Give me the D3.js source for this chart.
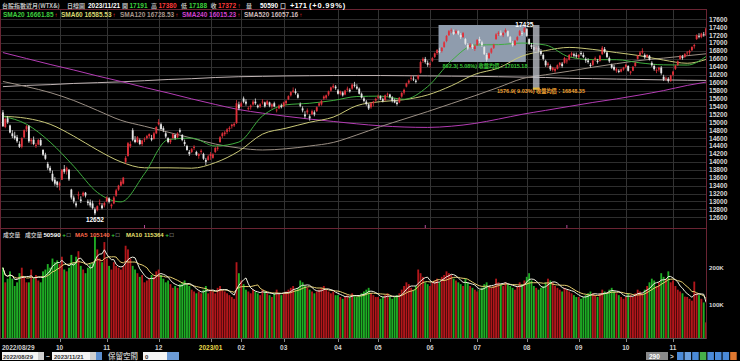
<!DOCTYPE html>
<html><head><meta charset="utf-8">
<script src="https://cdn.jsdelivr.net/npm/d3@7/dist/d3.min.js"></script>
<style>html,body{margin:0;padding:0;background:#000;overflow:hidden}svg{display:block}</style>
</head><body>
<svg id="chart" width="740" height="361"></svg>
<script>
// ---------------- DATA ----------------
const open = [
15250,14880,15100,14920,14720,14660,14620,14450,14380,14620,
14820,14900,14520,14560,14400,14440,14550,14300,14180,13950,
13850,13700,13550,13500,13400,13550,13820,13760,13800,13300,
13100,12950,13150,13050,13150,13220,13000,12980,12950,12800,
12780,12950,12900,12900,13000,13080,12880,12950,13150,13300,
13400,13450,14000,14150,14400,14800,14560,14500,14550,14450,
14560,14600,14650,14600,14580,14720,14950,14950,14850,14720,
14600,14500,14600,14680,14620,14800,14680,14500,14400,14250,
14250,14350,14250,14150,14250,14200,14050,14050,14150,14100,
14250,14330,14500,14650,14700,14760,14830,14900,14920,14980,
15450,15400,15600,15520,15350,15380,15450,15520,15420,15400,
15500,15500,15450,15500,15400,15480,15300,15350,15420,15400,
15480,15580,15680,15770,15780,15700,15450,15350,15200,15250,
15150,15200,15250,15280,15420,15450,15600,15620,15700,15800,
15880,15900,15800,15720,15750,15700,15820,15820,15850,15950,
15900,15850,15720,15600,15520,15450,15380,15480,15550,15620,
15650,15580,15560,15700,15700,15620,15550,15500,15500,15650,
15750,15900,16000,16100,16100,16050,16100,16250,16550,16600,
16500,16450,16550,16650,16750,16800,16800,16900,17050,17200,
17300,17280,17250,17300,17200,17150,17100,16950,16900,16950,
16850,16950,17100,17020,16900,16700,16620,16760,16880,17100,
17230,17260,17200,17280,17300,17150,17000,16950,17080,17200,
17250,17280,17350,17100,16950,16900,16850,16880,16800,16700,
16550,16450,16420,16320,16300,16350,16450,16480,16500,16550,
16580,16700,16720,16700,16650,16750,16700,16600,16560,16450,
16450,16580,16550,16550,16720,16850,16760,16620,16450,16400,
16300,16300,16280,16330,16400,16420,16250,16300,16420,16600,
16700,16760,16700,16650,16680,16500,16420,16300,16330,16380,
16150,16100,16100,16040,16200,16350,16450,16600,16650,16650,
16740,16760,16820,16920,17100,17180,17150,17220,17191];
const high = [
15310,15120,15160,14940,14800,14760,14680,14520,14620,14820,
14930,14930,14600,14640,14480,14580,14600,14320,14230,14000,
13900,13780,13620,13520,13500,13820,13920,13880,13820,13320,
13150,13000,13250,13130,13250,13240,13050,13050,13020,12850,
12900,13050,12960,12990,13130,13110,12950,13140,13320,13420,
13550,13620,14150,14500,14520,14850,14650,14650,14590,14560,
14620,14680,14720,14680,14760,14900,15080,14990,14900,14760,
14620,14580,14720,14700,14750,14850,14700,14560,14430,14300,
14350,14420,14280,14220,14320,14230,14100,14180,14250,14220,
14380,14400,14650,14750,14780,14850,14900,14960,15000,15560,
15520,15520,15650,15580,15400,15450,15560,15600,15450,15480,
15580,15520,15560,15520,15480,15520,15350,15450,15470,15520,
15560,15680,15780,15880,15850,15740,15500,15400,15280,15350,
15200,15320,15300,15400,15500,15560,15680,15700,15800,15900,
15970,15940,15840,15800,15780,15820,15900,15860,15980,16020,
15960,15880,15750,15640,15560,15480,15500,15540,15620,15700,
15680,15620,15700,15750,15720,15660,15600,15560,15640,15760,
15850,16000,16080,16180,16160,16090,16200,16560,16640,16650,
16560,16520,16650,16760,16850,16880,16900,17050,17200,17330,
17370,17340,17340,17320,17250,17280,17130,17000,17000,16980,
16950,17100,17160,17060,16920,16750,16760,16880,16980,17250,
17300,17320,17280,17370,17320,17180,17050,17080,17180,17330,
17300,17425,17380,17120,17000,16950,16920,16930,16850,16740,
16580,16520,16460,16400,16380,16460,16520,16520,16650,16620,
16720,16780,16760,16760,16720,16800,16760,16640,16620,16500,
16580,16660,16600,16700,16925,16900,16800,16660,16480,16450,
16380,16340,16360,16400,16480,16440,16300,16420,16520,16700,
16800,16870,16740,16720,16700,16540,16460,16360,16400,16420,
16200,16160,16140,16200,16300,16450,16560,16700,16700,16750,
16800,16830,16920,16980,17220,17250,17260,17280,17380];
const low = [
14880,14850,14960,14720,14600,14560,14480,14350,14340,14600,
14760,14480,14440,14420,14350,14420,14400,14150,14050,13800,
13720,13500,13400,13350,13280,13540,13700,13680,13520,13050,
12950,12850,13050,12960,13120,13100,12900,12850,12800,12652,
12750,12900,12800,12850,12980,12950,12820,12930,13120,13270,
13380,13430,13950,14130,14350,14520,14470,14480,14420,14400,
14500,14560,14600,14520,14560,14700,14920,14800,14750,14600,
14470,14450,14580,14560,14600,14720,14520,14400,14280,14150,
14220,14300,14150,14080,14200,14050,13920,14030,14050,14080,
14220,14280,14480,14600,14650,14700,14760,14840,14880,14960,
15300,15380,15480,15420,15300,15320,15420,15440,15350,15360,
15450,15370,15430,15380,15340,15380,15250,15330,15350,15380,
15430,15560,15650,15740,15700,15600,15380,15250,15100,15200,
15040,15180,15150,15260,15400,15420,15560,15580,15660,15770,
15850,15820,15700,15680,15650,15680,15780,15750,15820,15880,
15820,15700,15600,15500,15420,15310,15340,15400,15520,15580,
15560,15500,15540,15640,15600,15500,15480,15420,15480,15620,
15700,15880,15960,16050,16040,15980,16060,16230,16500,16480,
16400,16380,16520,16620,16700,16740,16760,16880,17020,17180,
17250,17200,17220,17200,17100,17130,16950,16820,16870,16850,
16800,16930,17000,16900,16700,16530,16600,16730,16850,17080,
17180,17180,17150,17250,17150,17000,16910,16930,17050,17180,
17180,17260,17150,16950,16850,16780,16800,16760,16680,16560,
16400,16380,16300,16280,16250,16330,16400,16380,16480,16480,
16560,16650,16640,16620,16600,16680,16620,16500,16480,16380,
16420,16540,16480,16530,16700,16740,16620,16500,16350,16300,
16250,16240,16260,16300,16360,16280,16200,16290,16400,16580,
16680,16720,16600,16620,16560,16400,16300,16240,16280,16200,
16040,16050,16000,16020,16160,16320,16420,16580,16580,16620,
16680,16700,16800,16860,17080,17120,17120,17160,17188];
const close = [
14900,15080,15000,14740,14650,14600,14520,14380,14600,14800,
14900,14520,14560,14450,14430,14550,14420,14180,14080,13850,
13780,13530,13450,13420,13460,13800,13750,13850,13560,13100,
13000,12900,13180,13010,13220,13150,12960,12900,12830,12700,
12880,12960,12830,12960,13100,12990,12920,13100,13280,13400,
13500,13600,14100,14470,14450,14560,14500,14620,14450,14540,
14580,14650,14700,14560,14720,14880,15000,14830,14800,14640,
14500,14550,14700,14600,14720,14760,14550,14450,14300,14200,
14320,14380,14180,14200,14280,14080,14000,14140,14200,14190,
14350,14360,14620,14720,14740,14820,14860,14940,14960,15480,
15350,15480,15520,15470,15360,15420,15520,15480,15380,15450,
15520,15400,15530,15420,15450,15400,15320,15420,15380,15500,
15540,15660,15760,15800,15740,15620,15420,15300,15150,15300,
15100,15280,15200,15380,15480,15540,15650,15680,15780,15880,
15920,15860,15720,15780,15680,15800,15850,15780,15950,15920,
15850,15720,15620,15540,15460,15350,15480,15520,15590,15650,
15600,15540,15680,15720,15640,15540,15500,15460,15620,15740,
15820,15980,16050,16120,16080,16020,16180,16520,16600,16520,
16450,16480,16620,16740,16820,16780,16880,17020,17180,17300,
17320,17230,17300,17240,17150,17250,16980,16860,16960,16900,
16920,17080,17050,16950,16720,16580,16740,16860,16960,17220,
17260,17200,17250,17330,17180,17030,16950,17060,17150,17300,
17230,17380,17180,16980,16900,16820,16880,16800,16720,16600,
16440,16480,16340,16380,16350,16440,16500,16420,16620,16560,
16700,16740,16680,16660,16700,16720,16650,16560,16520,16420,
16560,16620,16520,16680,16880,16780,16650,16540,16380,16330,
16350,16270,16340,16380,16450,16300,16280,16400,16500,16680,
16760,16800,16640,16700,16580,16440,16340,16320,16380,16240,
16080,16120,16040,16180,16280,16430,16540,16680,16620,16720,
16760,16800,16900,16950,17200,17160,17240,17201,17372];
// volume, thousands of contracts
const volume = [
200,160,170,190,170,150,160,185,200,175,
160,160,195,170,180,165,160,190,195,210,
200,225,215,220,210,230,195,190,200,235,
215,230,245,205,195,185,200,210,215,285,
250,225,215,270,225,205,195,215,205,200,
195,205,260,250,225,205,195,185,175,180,
160,165,170,180,175,190,195,180,170,160,
165,155,145,150,145,155,160,165,155,150,
140,135,130,135,130,140,150,130,140,135,
130,145,150,140,135,130,125,120,115,215,
185,165,155,140,135,130,140,135,130,125,
140,135,130,125,120,130,140,130,125,130,
135,140,145,150,140,145,165,160,150,145,
140,135,130,135,140,145,150,140,135,130,
135,125,125,120,115,120,125,120,130,125,
120,125,130,135,140,145,130,125,120,120,
115,120,125,130,120,115,120,125,130,140,
150,160,155,145,140,150,195,185,175,160,
155,150,160,165,170,160,175,180,190,185,
180,170,165,160,155,150,170,160,150,145,
140,135,140,145,155,160,150,145,150,170,
160,155,150,160,155,150,145,140,150,160,
155,165,175,185,165,150,145,140,145,150,
160,170,165,160,150,145,140,135,145,140,
135,130,125,120,120,115,120,125,130,135,
130,125,120,130,140,135,130,140,145,135,
130,125,120,115,120,130,125,120,130,140,
135,130,140,150,160,170,165,150,160,185,
175,170,190,160,165,150,140,135,130,120.94,
120,115,110,162,130,125,115,105.11,50.59];

// moving averages at every 10th bar
const maIndex = [0,10,20,30,40,50,60,70,80,90,100,110,120,130,140,150,160,170,180,190,200,210,220,230,240,250,260,270,280,290,298];
const sma20  = [15150,14950,14500,13890,13230,12990,13700,14560,14600,14400,14500,15160,15440,15480,15550,15650,15660,15580,15900,16550,16950,16960,17000,16950,16650,16580,16580,16500,16450,16444,16662];
const sma60  = [15150,15100,14950,14650,14300,14000,13850,13850,13840,13980,14270,14700,14850,15000,15130,15420,15520,15570,15690,15920,16210,16370,16670,16810,16890,16840,16760,16680,16570,16490,16586];
const sma120 = [16030,15900,15750,15550,15300,15050,14900,14750,14600,14450,14350,14300,14330,14400,14490,14680,14890,15080,15270,15470,15670,15880,16100,16200,16290,16390,16480,16560,16620,16680,16729];
const sma240 = [16760,16610,16460,16320,16170,16030,15880,15740,15590,15450,15320,15230,15150,15080,15020,14960,14910,14880,14870,14900,14970,15080,15200,15300,15400,15500,15590,15690,15800,15930,16015];
const sma520 = [15900,15930,15950,15980,16000,16020,16050,16080,16100,16130,16150,16160,16170,16175,16180,16180,16180,16175,16170,16165,16160,16150,16140,16130,16110,16100,16090,16080,16070,16062,16057];

const monthStart = [0,24,44,66,88,101,119,142,159,181,201,222,244,264,284];
const monthLabel = ["2022/08/29","10","11","12","2023/01","02","03","04","05","06","07","08","09","10","11"];
const priceTicks = d3.range(12600, 17601, 200);
const volTicks = [100, 200];
const volTickLabels = ["100K", "200K"];
const markerBars = [60, 179, 239];

// statistics range box and single-bar strip (bar indices / prices)
const boxBars = [185, 222];
const boxPrices = [16522, 17456];
const stripBars = [225, 227];
const stripPrices = [15825, 17456];

// ---------------- CHART ----------------
const svg = d3.select("#chart");
const FONT = "'Liberation Sans',Arial,sans-serif";
const CJK = "'Noto Sans CJK TC','Noto Sans CJK SC',sans-serif";
const N = close.length;

const x = d3.scaleBand().domain(d3.range(N)).range([2, 707]).paddingInner(0.22);
const cx = i => x(i) + x.bandwidth() / 2;
const y = d3.scaleLinear().domain([12600, 17600]).range([217.3, 19.3]);
const yv = d3.scaleLinear().domain([0, 200]).range([340.9, 267.7]);

svg.append("rect").attr("width", 740).attr("height", 361).attr("fill", "#000");

const defs = svg.append("defs");
defs.append("clipPath").attr("id", "cp").append("rect").attr("x", 1).attr("y", 10).attr("width", 705).attr("height", 218);
defs.append("clipPath").attr("id", "cv").append("rect").attr("x", 1).attr("y", 230).attr("width", 705).attr("height", 108);

// grid
const grid = svg.append("g");
grid.selectAll("line.h").data(priceTicks).join("line")
  .attr("x1", 1).attr("x2", 706).attr("y1", d => Math.round(y(d)) + 0.5).attr("y2", d => Math.round(y(d)) + 0.5)
  .attr("stroke", "#2e2e2e").attr("stroke-width", 1);
grid.selectAll("line.v").data(monthStart.slice(1)).join("line")
  .attr("x1", d => Math.round(cx(d)) + 0.5).attr("x2", d => Math.round(cx(d)) + 0.5)
  .attr("y1", 10).attr("y2", 338).attr("stroke", "#333").attr("stroke-width", 1);

// selection box
const pg = svg.append("g").attr("clip-path", "url(#cp)");
pg.append("rect")
  .attr("x", x(boxBars[0])).attr("width", x(boxBars[1]) - x(boxBars[0]))
  .attr("y", y(boxPrices[1])).attr("height", y(boxPrices[0]) - y(boxPrices[1]))
  .attr("fill", "#8f9cad");

// moving averages
const maLine = d3.line().x((d, k) => cx(maIndex[k])).y(d => y(d)).curve(d3.curveMonotoneX);
const maDefs = [
  [sma520, "#bfb3b3"], [sma240, "#b43cb4"], [sma120, "#9b8f84"], [sma60, "#c9c878"], [sma20, "#3fae3f"]
];
maDefs.forEach(([arr, col]) => {
  pg.append("path").attr("d", maLine(arr)).attr("fill", "none").attr("stroke", col).attr("stroke-width", 1);
});

// candles
const cg = pg.append("g");
const up = i => close[i] >= open[i];
cg.selectAll("line").data(d3.range(N)).join("line")
  .attr("x1", i => cx(i)).attr("x2", i => cx(i))
  .attr("y1", i => y(high[i])).attr("y2", i => y(low[i]))
  .attr("stroke", i => up(i) ? "#e0303a" : "#e6e6e6").attr("stroke-width", 0.8);
cg.selectAll("rect").data(d3.range(N)).join("rect")
  .attr("x", i => x(i)).attr("width", x.bandwidth())
  .attr("y", i => y(Math.max(open[i], close[i])))
  .attr("height", i => Math.max(0.8, Math.abs(y(open[i]) - y(close[i]))))
  .attr("fill", i => up(i) ? "#e0303a" : "#e6e6e6");

// strip
pg.append("rect")
  .attr("x", x(stripBars[0])).attr("width", x(stripBars[1]) + x.bandwidth() - x(stripBars[0]))
  .attr("y", y(stripPrices[1])).attr("height", y(stripPrices[0]) - y(stripPrices[1]))
  .attr("fill", "#c4c8d0").attr("opacity", 0.75);
pg.append("rect")
  .attr("x", x(stripBars[0])).attr("width", x(stripBars[1]) + x.bandwidth() - x(stripBars[0]))
  .attr("y", y(stripPrices[0]) - 2).attr("height", 2).attr("fill", "#e0c040");

// event markers on the separator
svg.selectAll("line.mk").data(markerBars).join("line")
  .attr("x1", d => cx(d)).attr("x2", d => cx(d)).attr("y1", 225).attr("y2", 229)
  .attr("stroke", "#b04a9a").attr("stroke-width", 1);

// volume
const vg = svg.append("g").attr("clip-path", "url(#cv)");
vg.selectAll("rect").data(d3.range(N)).join("rect")
  .attr("x", i => x(i)).attr("width", x.bandwidth())
  .attr("y", i => yv(volume[i])).attr("height", i => yv(0) - yv(volume[i]))
  .attr("fill", i => up(i) ? "#b3171b" : "#1fae25");
const volMA = n => volume.map((v, i) => d3.mean(volume.slice(Math.max(0, i - n + 1), i + 1)));
const vLine = d3.line().x((d, i) => cx(i)).y(d => yv(d));
vg.append("path").attr("d", vLine(volMA(10))).attr("fill", "none").attr("stroke", "#e8d070").attr("stroke-width", 1);
vg.append("path").attr("d", vLine(volMA(5))).attr("fill", "none").attr("stroke", "#f0f0e0").attr("stroke-width", 1);

// frames
const frame = "#6a2433";
svg.append("line").attr("x1", 0).attr("x2", 707).attr("y1", 9.5).attr("y2", 9.5).attr("stroke", frame);
svg.append("line").attr("x1", 0).attr("x2", 707).attr("y1", 228.5).attr("y2", 228.5).attr("stroke", frame);
svg.append("line").attr("x1", 0).attr("x2", 707).attr("y1", 338.5).attr("y2", 338.5).attr("stroke", "#555");
svg.append("line").attr("x1", 0.5).attr("x2", 0.5).attr("y1", 9).attr("y2", 339).attr("stroke", frame);
svg.append("line").attr("x1", 706.5).attr("x2", 706.5).attr("y1", 9).attr("y2", 339).attr("stroke", frame);

// helper for text
function T(xp, yp, s, col, size, fam, anchor) {
  return svg.append("text").attr("x", xp).attr("y", yp).text(s).attr("fill", col)
    .attr("font-family", fam || FONT).attr("font-size", size).attr("font-weight", "bold")
    .attr("text-anchor", anchor || "start");
}
// places a run of texts left to right with a gap after each
function run(xp, yp, parts) {
  let cur = xp;
  parts.forEach(([s, col, size, fam, gap]) => {
    const t = T(cur, yp, s, col, size, fam);
    cur += t.node().getComputedTextLength() + (gap === undefined ? 1.5 : gap);
  });
}

// price axis
priceTicks.forEach(d => T(709, y(d) + 2.4, d, "#d8d8d8", 6.6));
volTicks.forEach((d, k) => T(709, yv(d) + 2.2, volTickLabels[k], "#d8d8d8", 6.2));

// x axis
svg.selectAll("line.tk").data(monthStart.slice(1)).join("line")
  .attr("x1", d => Math.round(cx(d)) + 0.5).attr("x2", d => Math.round(cx(d)) + 0.5)
  .attr("y1", 339).attr("y2", 342).attr("stroke", "#888");
monthStart.forEach((d, k) => {
  const lab = monthLabel[k];
  T(k === 0 ? 2 : cx(d), 349.5, lab, (k > 0 && lab.length > 4) ? "#e8d84a" : "#cfcfcf", 6.5, FONT, k === 0 ? "start" : "middle");
});

// header
T(2, 8, "台股指數近月(WTX&)", "#bdbdbd", 6, CJK);
T(67, 8, "日線圖", "#bdbdbd", 6, CJK);
T(88, 8, "2023/11/21", "#ffffff", 6.5);
T(122, 8, "開", "#bdbdbd", 6, CJK); T(129.5, 8, "17191", "#3cd23c", 6.5);
T(151, 8, "高", "#bdbdbd", 6, CJK); T(158.5, 8, "17380", "#ff3a3a", 6.5);
T(181, 8, "低", "#bdbdbd", 6, CJK); T(189, 8, "17188", "#3cd23c", 6.5);
T(210.5, 8, "收", "#bdbdbd", 6, CJK); T(218, 8, "17372", "#ff3a3a", 6.5); T(237.5, 8, "↑", "#ff3a3a", 6.5);
T(246, 8, "量", "#bdbdbd", 6, CJK); T(260, 8, "50590", "#ffffff", 6.5); T(280, 8, "口", "#bdbdbd", 6, CJK);
T(290, 8, "+171", "#ffffff", 7.5);
T(309, 8, "(+0.99%)", "#ffffff", 7.5).attr("letter-spacing", 0.8);

// MA legend
const leg = [
  [3, "SMA20 16661.85", "#3fcf3f"], [61, "SMA60 16585.53", "#d8d870"],
  [120, "SMA120 16728.53", "#a8968a"], [182, "SMA240 16015.23", "#d040d0"],
  [244, "SMA520 16057.16", "#cdbaba"]
];
leg.forEach(([xp, s, col]) => run(xp, 16.5, [[s, col, 6.5, FONT, 1], ["↑", "#ff3030", 6, FONT]]));

// volume legend
T(3, 236.5, "成交量", "#bdbdbd", 5.8, CJK);
run(25, 236.5, [["成交量", "#bdbdbd", 5.8, CJK, 1], ["50590", "#ffffff", 6.2, FONT, 1.5], ["+", "#3cd23c", 6.2, FONT, 1], ["□", "#cccccc", 6.2, FONT]]);
run(75, 236.5, [["MA5", "#ff6a4a", 6, FONT, 2], ["105140", "#ff6a4a", 6, FONT, 1.5], ["+", "#3cd23c", 6.2, FONT, 1], ["□", "#cccccc", 6.2, FONT]]);
run(126, 236.5, [["MA10", "#e8e070", 6, FONT, 2], ["115364", "#e8e070", 6, FONT, 1.5], ["+", "#3cd23c", 6.2, FONT, 1], ["□", "#cccccc", 6.2, FONT]]);

// price annotations
T(cx(39), y(12652) + 7, "12652", "#ffffff", 6.5, FONT, "middle");
T(cx(221), y(17425) + 0.5, "17425", "#ffffff", 6.5, FONT, "middle");
function annot(xp, yp, a, b, c, col) {
  const t = svg.append("text").attr("x", xp).attr("y", yp).attr("fill", col).attr("font-weight", "bold");
  t.append("tspan").attr("font-family", FONT).attr("font-size", 5.5).text(a);
  t.append("tspan").attr("font-family", CJK).attr("font-size", 5.2).text(b);
  t.append("tspan").attr("font-family", FONT).attr("font-size", 5.5).text(c);
}
annot(x(boxBars[0]) + 4, y(boxPrices[0]) + 6.5, "892.3( 5.08%) ", "收盤均價：", "17015.18", "#34c234");
annot(x(stripBars[0]) - 36, y(stripPrices[0]) + 3, "1576.9( 9.03%) ", "收盤均價：", "16848.35", "#f0a030");

// bottom toolbar
const tb = svg.append("g");
tb.append("rect").attr("x", 2).attr("y", 352).attr("width", 42).attr("height", 8).attr("fill", "#f4f4f4");
tb.append("rect").attr("x", 38).attr("y", 352).attr("width", 6).attr("height", 8).attr("fill", "#d0d0d0");
T(3, 358.5, "2022/08/29", "#333", 6);
T(46, 358.5, "~", "#ccc", 6.5);
tb.append("rect").attr("x", 52).attr("y", 352).attr("width", 44).attr("height", 8).attr("fill", "#f4f4f4");
tb.append("rect").attr("x", 90).attr("y", 352).attr("width", 6).attr("height", 8).attr("fill", "#d0d0d0");
T(54, 358.5, "2023/11/21", "#333", 6);
tb.append("rect").attr("x", 96).attr("y", 352).attr("width", 6).attr("height", 8).attr("fill", "#5c8fd0");
T(108, 359, "保留空間", "#bdbdbd", 7.5, CJK);
tb.append("rect").attr("x", 143).attr("y", 352).attr("width", 24).attr("height", 8).attr("fill", "#f4f4f4");
T(145, 358.5, "0", "#333", 6);
tb.append("rect").attr("x", 167).attr("y", 352).attr("width", 12).attr("height", 8).attr("fill", "#6b9bd6");
tb.append("rect").attr("x", 646).attr("y", 352).attr("width", 22).attr("height", 8).attr("fill", "#8a8a8a");
T(649, 358.5, "290", "#ffffff", 6.5);
T(670, 358.5, ">", "#cccccc", 6.5);
const icons = ["#4a8ad8", "#6aa0e0", "#4a8ad8", "#46b04a", "#4a8ad8", "#4a8ad8", "#4a8ad8", "#e07830"];
icons.forEach((c, k) => tb.append("rect").attr("x", 677 + k * 7.6).attr("y", 352).attr("width", 6.5).attr("height", 8).attr("fill", c));
</script>
</body></html>
